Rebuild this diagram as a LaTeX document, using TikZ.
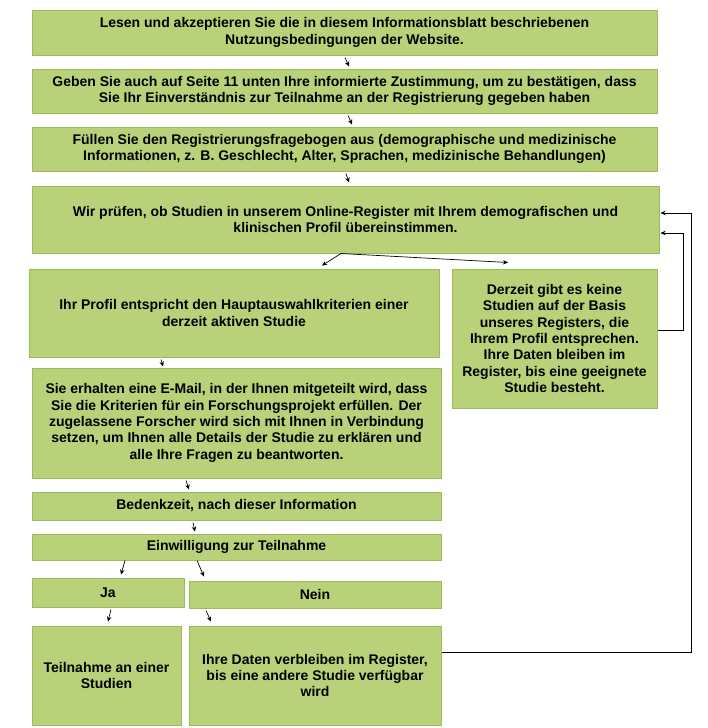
\documentclass[tikz,border=0pt]{standalone}
\usepackage{fontspec}
\setmainfont{Liberation Sans}
\usetikzlibrary{arrows.meta}
\definecolor{boxfill}{RGB}{185, 210, 122}
\definecolor{boxline}{RGB}{155, 187, 89}

\begin{document}
\begin{tikzpicture}[x=1pt, y=-1pt,
        gbox/.style={draw=boxline, fill=boxfill, line width=1pt, inner sep=0pt,
            align=center, font=\bfseries\fontsize{14}{16.3}\selectfont},
        arr/.style={-{Stealth[length=5pt, width=4.5pt]}, line width=0.7pt}
    ]
    \useasboundingbox (0,0) rectangle (708,728);

    \node[gbox, minimum width=625pt, minimum height=45pt] (read) at (344.5, 32.5)
        {Lesen und akzeptieren Sie die in diesem Informationsblatt beschriebenen\\
         Nutzungsbedingungen der Website.};
    \node[gbox, minimum width=625pt, minimum height=44pt] (consent) at (344.5, 91)
        {Geben Sie auch auf Seite 11 unten Ihre informierte Zustimmung, um zu bestätigen, dass\\
         Sie Ihr Einverständnis zur Teilnahme an der Registrierung gegeben haben};
    \node[gbox, minimum width=625pt, minimum height=44pt] (form) at (344.5, 149)
        {Füllen Sie den Registrierungsfragebogen aus (demographische und medizinische\\
         Informationen, z. B. Geschlecht, Alter, Sprachen, medizinische Behandlungen)};
    \node[gbox, minimum width=627pt, minimum height=67pt] (check) at (345.5, 219.5)
        {Wir prüfen, ob Studien in unserem Online-Register mit Ihrem demografischen und\\
         klinischen Profil übereinstimmen.};
    \node[gbox, minimum width=410pt, minimum height=88pt] (match) at (234, 313)
        {Ihr Profil entspricht den Hauptauswahlkriterien einer\\
         derzeit aktiven Studie};
    \node[gbox, minimum width=205pt, minimum height=139pt] (none) at (554.5, 338.5)
        {Derzeit gibt es keine\\ Studien auf der Basis\\ unseres Registers, die\\
         Ihrem Profil entsprechen.\\ Ihre Daten bleiben im\\
         Register, bis eine geeignete\\ Studie besteht.};
    \node[gbox, minimum width=409pt, minimum height=110pt] (mail) at (236.5, 423)
        {Sie erhalten eine E-Mail, in der Ihnen mitgeteilt wird, dass\\
         Sie die Kriterien für ein Forschungsprojekt erfüllen. Der\\
         zugelassene Forscher wird sich mit Ihnen in Verbindung\\
         setzen, um Ihnen alle Details der Studie zu erklären und\\
         alle Ihre Fragen zu beantworten.};
    \node[gbox, minimum width=409pt, minimum height=28pt] (think) at (236.5, 506)
        {Bedenkzeit, nach dieser Information};
    \node[gbox, minimum width=409pt, minimum height=26pt] (agree) at (236.5, 547)
        {Einwilligung zur Teilnahme};
    \node[gbox, minimum width=152pt, minimum height=29pt] (yes) at (108, 592.5) {Ja};
    \node[gbox, minimum width=252pt, minimum height=27pt] (no) at (315, 594.5) {Nein};
    \node[gbox, minimum width=149pt, minimum height=99pt] (take) at (106.5, 675.5)
        {Teilnahme an einer\\ Studien};
    \node[gbox, minimum width=252pt, minimum height=99pt] (keep) at (315, 675.5)
        {Ihre Daten verbleiben im Register,\\ bis eine andere Studie verfügbar\\ wird};

    % short arrows down the chain
    \draw[arr] ([xshift=0.5pt, yshift=-2pt]read.south) -- ([xshift=4.5pt, yshift=2pt]consent.north);
    \draw[arr] ([xshift=3.5pt, yshift=-2pt]consent.south) -- ([xshift=7.5pt, yshift=2pt]form.north);
    \draw[arr] ([xshift=1.5pt, yshift=-2pt]form.south) -- ([xshift=3.5pt, yshift=3pt]check.north);
    \draw[arr] ([xshift=-4.5pt]check.south) -- ([xshift=88pt, yshift=3pt]match.north);
    \draw[arr] ([xshift=-4.5pt]check.south) -- ([xshift=-46.5pt, yshift=6pt]none.north);
    \draw[arr] ([xshift=-73pt, yshift=-2pt]match.south) -- ([xshift=-73.5pt, yshift=1pt]mail.north);
    \draw[arr] ([xshift=-50.5pt, yshift=-2pt]mail.south) -- ([xshift=-47.5pt, yshift=2pt]think.north);
    \draw[arr] ([xshift=-43.5pt, yshift=-2pt]think.south) -- ([xshift=-41.5pt, yshift=2pt]agree.north);
    \draw[arr] ([xshift=-111.5pt]agree.south) -- ([xshift=13pt, yshift=3pt]yes.north);
    \draw[arr] ([xshift=-39.5pt]agree.south) -- ([xshift=-111pt, yshift=4pt]no.north);
    \draw[arr] ([xshift=3pt, yshift=-2pt]yes.south) -- ([xshift=1.5pt, yshift=4pt]take.north);
    \draw[arr] ([xshift=-109pt, yshift=-2pt]no.south) -- ([xshift=-104pt, yshift=4pt]keep.north);

    % loops back to the check
    \draw[arr] ([yshift=8.5pt]none.east) -| ([xshift=24pt, yshift=-13.5pt]check.east)
        -- ([xshift=1pt, yshift=-13.5pt]check.east);
    \draw[arr] ([yshift=23.5pt]keep.east) -| ([xshift=32pt, yshift=6.5pt]check.east)
        -- ([xshift=1pt, yshift=6.5pt]check.east);
\end{tikzpicture}
\end{document}
